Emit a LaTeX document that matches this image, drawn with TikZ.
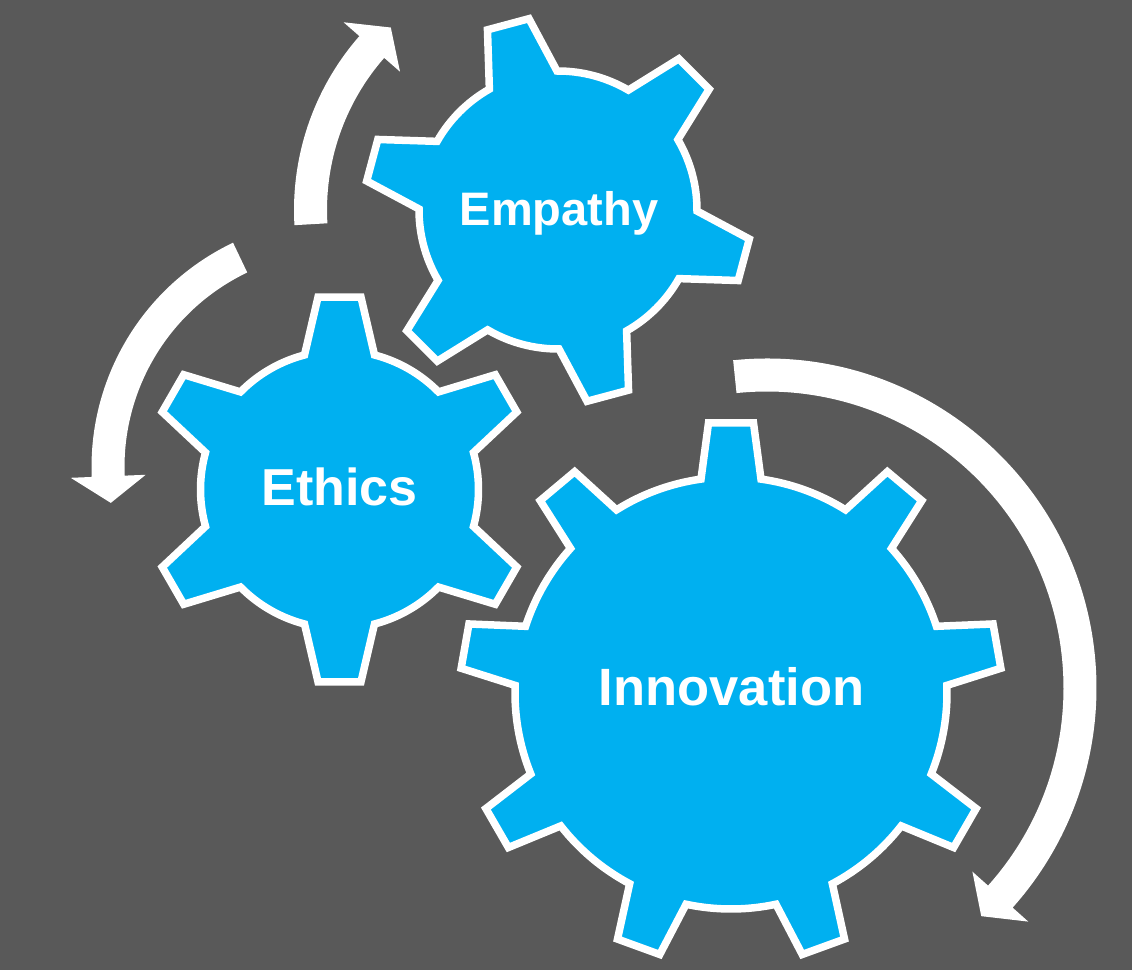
\documentclass[tikz,border=0pt]{standalone}
\usepackage{fontspec}
\setmainfont{Liberation Sans}
\definecolor{bgdark}{HTML}{595959}
\definecolor{gearblue}{HTML}{00B0F0}
\tikzset{
  gearshape/.style={fill=gearblue, draw=white, line width=7.5pt, line join=miter},
  arrowshape/.style={fill=white},
  gearlabel/.style={text=white, anchor=base, inner sep=0pt}
}
% #1 center, #2 teeth, #3 first tooth angle, #4 body radius, #5 tip radius, #6 base half width, #7 tip half width
\newcommand{\drawgear}[7]{%
  \pgfmathsetmacro{\gab}{asin(#6/#4)}%
  \pgfmathsetmacro{\gat}{asin(#7/#5)}%
  \pgfmathsetmacro{\gstep}{360/#2}%
  \pgfmathtruncatemacro{\glast}{#2-1}%
  \filldraw[gearshape, shift={(#1)}] ({#3-\gab}:#4)
    \foreach \k in {0,...,\glast} {
      -- ({#3+\k*\gstep-\gat}:#5) -- ({#3+\k*\gstep+\gat}:#5) -- ({#3+\k*\gstep+\gab}:#4)
      arc[start angle={#3+\k*\gstep+\gab}, end angle={#3+(\k+1)*\gstep-\gab}, radius=#4]
    } -- cycle;
}
% #1 center, #2 mid radius, #3 tail angle, #4 head base angle, #5 tip angle
\newcommand{\circarrow}[5]{%
  \fill[arrowshape, shift={(#1)}] ({#3}:{#2+16.5})
    arc[start angle={#3}, end angle={#4}, radius={#2+16.5}]
    -- ({#4}:{#2+37.5}) -- ({#5}:{#2}) -- ({#4}:{#2-37.5}) -- ({#4}:{#2-16.5})
    arc[start angle={#4}, end angle={#3}, radius={#2-16.5}] -- cycle;
}
\begin{document}
\begin{tikzpicture}[x=1pt, y=1pt]
  \useasboundingbox (0,0) rectangle (1132,970);
  \fill[bgdark] (0,0) rectangle (1132,970);
  \coordinate (cinn) at (731,277);
  \coordinate (ceth) at (339.5,480.5);
  \coordinate (cemp) at (558,760);
  % circular arrows
  \circarrow{558,760}{247.5}{183.3}{138.8}{132.5}
  \circarrow{340,503}{232}{115.5}{182.3}{188.9}
  \circarrow{767,282}{313}{95.9}{-41.8}{-46.8}
  % gears
  \drawgear{731,277}{9}{90}{216}{271}{30}{22.5}
  \drawgear{339.5,480.5}{6}{90}{139}{193.5}{35}{21.5}
  \drawgear{558,760}{6}{105}{139}{193.5}{35}{21.5}
  % labels
  \node[gearlabel, font=\bfseries\fontsize{52.5}{60}\selectfont] (tinn) at (731.5,265) {Innovation};
  \node[gearlabel, font=\bfseries\fontsize{52}{60}\selectfont] (teth) at (339.5,464) {Ethics};
  \node[gearlabel, font=\bfseries\fontsize{47}{54}\selectfont] (temp) at (559,744) {Empathy};
\end{tikzpicture}
\end{document}
